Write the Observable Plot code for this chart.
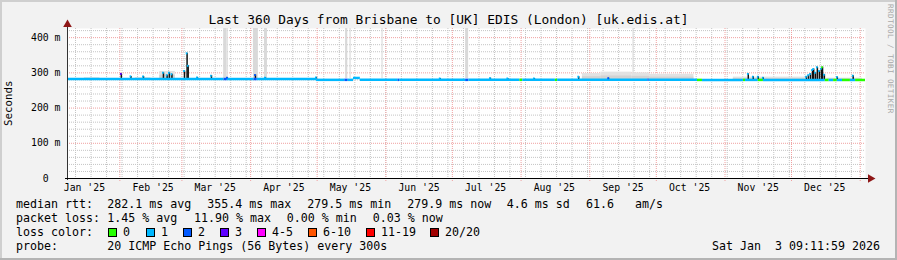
<!DOCTYPE html>
<html><head><meta charset="utf-8">
<script src="https://cdn.jsdelivr.net/npm/d3@7"></script>
<script src="https://cdn.jsdelivr.net/npm/@observablehq/plot@0.6"></script>
<style>
html,body{margin:0;padding:0;background:#fff;}
#chart{position:relative;width:897px;height:260px;background:#f2f2f2;overflow:hidden;font-family:"DejaVu Sans Mono",monospace;color:#000;}
#chart .tx{position:absolute;white-space:pre;line-height:1.164;}
#chart svg{position:absolute;left:0;top:0;}
</style></head><body><div id="chart"></div>
<script>
// ---------------- data ----------------
const titleText = "Last 360 Days from Brisbane to [UK] EDIS (London) [uk.edis.at]";
const dataStart = "2025-01-08T09:11:59Z";
const dataEnd = "2026-01-03T09:11:59Z";
const yMax = 426;
const yTicks = [0, 100, 200, 300, 400];

// median rtt runs: [start, median (ms), loss class]
const medianRuns = [
  ["2025-01-08T09:11Z", 282.5, 1],
  ["2025-03-20T00:00Z", 282.5, 2],
  ["2025-03-21T12:00Z", 282.5, 1],
  ["2025-04-02T12:00Z", 282.5, 2],
  ["2025-04-04T00:00Z", 282.5, 1],
  ["2025-04-30T18:00Z", 280.2, 1],
  ["2025-05-13T12:00Z", 280.2, 2],
  ["2025-05-15T00:00Z", 280.2, 1],
  ["2025-05-17T10:00Z", 285.5, 1],
  ["2025-05-20T12:00Z", 280.2, 1],
  ["2025-06-06T12:00Z", 280.2, 2],
  ["2025-06-07T06:00Z", 280.2, 1],
  ["2025-07-07T00:00Z", 280.2, 2],
  ["2025-07-08T12:00Z", 280.2, 1],
  ["2025-07-31T12:00Z", 280.2, 0],
  ["2025-08-01T18:00Z", 280.2, 1],
  ["2025-08-16T12:00Z", 280.2, 0],
  ["2025-08-17T12:00Z", 280.2, 1],
  ["2025-09-27T06:00Z", 280.2, 2],
  ["2025-09-27T20:00Z", 280.2, 1],
  ["2025-10-19T14:00Z", 280.0, 0],
  ["2025-10-21T20:00Z", 280.0, 1],
  ["2025-11-09T08:00Z", 280.0, 0],
  ["2025-11-10T06:00Z", 280.0, 1],
  ["2025-11-16T00:00Z", 280.0, 0],
  ["2025-11-18T08:00Z", 280.0, 1],
  ["2025-12-16T06:00Z", 279.8, 0],
  ["2025-12-18T00:00Z", 279.8, 1],
  ["2025-12-20T00:00Z", 279.8, 0],
  ["2025-12-21T16:00Z", 279.8, 1],
  ["2025-12-24T00:00Z", 279.8, 0],
  ["2025-12-27T14:00Z", 279.8, 1],
  ["2025-12-29T22:00Z", 279.8, 0]
];

// short median excursions: [time, median (ms), loss class]
const spikes = [
  ["2025-02-01T16:00Z", 297, 3],
  ["2025-02-06T00:00Z", 290, 1],
  ["2025-02-11T16:00Z", 290, 1],
  ["2025-02-20T16:00Z", 300, 1],
  ["2025-02-22T08:00Z", 293, 1],
  ["2025-02-23T08:00Z", 300, 1],
  ["2025-02-24T12:00Z", 296, 1],
  ["2025-03-02T04:00Z", 305, 1],
  ["2025-03-03T08:00Z", 355.4, 1],
  ["2025-03-03T20:00Z", 320, 1],
  ["2025-03-08T00:00Z", 287, 1],
  ["2025-03-14T08:00Z", 292, 1],
  ["2025-03-21T12:00Z", 286, 2],
  ["2025-04-03T04:00Z", 294, 2],
  ["2025-04-07T16:00Z", 286, 1],
  ["2025-04-30T16:00Z", 287, 1],
  ["2025-06-25T12:00Z", 284, 1],
  ["2025-07-18T04:00Z", 285, 1],
  ["2025-07-26T00:00Z", 284, 1],
  ["2025-08-07T00:00Z", 284, 1],
  ["2025-08-27T00:00Z", 289, 1],
  ["2025-09-09T12:00Z", 285, 2],
  ["2025-11-11T12:00Z", 297, 1],
  ["2025-11-13T18:00Z", 289, 1],
  ["2025-11-16T00:00Z", 289, 1],
  ["2025-11-18T06:00Z", 286, 1],
  ["2025-12-07T18:00Z", 289, 1],
  ["2025-12-08T16:00Z", 293, 1],
  ["2025-12-09T14:00Z", 297, 1],
  ["2025-12-10T12:00Z", 308, 1],
  ["2025-12-11T00:00Z", 311, 1],
  ["2025-12-11T20:00Z", 300, 1],
  ["2025-12-12T16:00Z", 316, 1],
  ["2025-12-13T14:00Z", 305, 1],
  ["2025-12-14T12:00Z", 312, 1],
  ["2025-12-15T00:00Z", 316, 0],
  ["2025-12-15T20:00Z", 295, 1],
  ["2025-12-21T16:00Z", 288, 1],
  ["2025-12-28T20:00Z", 292, 1]
];

// smoke (spread of the 20 pings): [start, end, upper (ms)]
const smoke = [
  ["2025-01-16T00:00Z", "2025-01-23T00:00Z", 286],
  ["2025-02-08T00:00Z", "2025-02-15T00:00Z", 286],
  ["2025-02-19T00:00Z", "2025-02-26T00:00Z", 304],
  ["2025-08-28T16:00Z", "2025-09-06T00:00Z", 298],
  ["2025-09-06T00:00Z", "2025-09-20T00:00Z", 302],
  ["2025-09-20T00:00Z", "2025-09-28T00:00Z", 300],
  ["2025-09-28T00:00Z", "2025-10-18T00:00Z", 296],
  ["2025-11-04T18:00Z", "2025-12-07T12:00Z", 288],
  ["2025-12-17T00:00Z", "2026-01-02T00:00Z", 285]
];

// intervals whose ping spread runs off the top of the graph: [start, end]
const offScale = [
  ["2025-03-19T20:00Z", "2025-03-21T10:00Z"],
  ["2025-03-21T16:00Z", "2025-03-22T00:00Z"],
  ["2025-04-02T06:00Z", "2025-04-04T12:00Z"],
  ["2025-04-07T06:00Z", "2025-04-08T14:00Z"],
  ["2025-05-13T20:00Z", "2025-05-14T20:00Z"],
  ["2025-05-15T20:00Z", "2025-05-16T08:00Z"],
  ["2025-05-30T06:00Z", "2025-05-30T18:00Z"],
  ["2025-07-07T00:00Z", "2025-07-08T08:00Z"],
  ["2025-09-20T12:00Z", "2025-09-21T00:00Z"]
];

const lossLabels = ["0", "1", "2", "3", "4-5", "6-10", "11-19", "20/20"];
const lossColors = ["#26ff00", "#00b8ff", "#0059ff", "#5e00ff", "#ff00ff", "#ff5500", "#ff0000", "#a10000"];

const rttStats = ["282.1 ms avg", "355.4 ms max", "279.5 ms min", "279.9 ms now", "4.6 ms sd", "61.6   am/s"];
const lossStats = ["1.45 % avg", "11.90 % max", "0.00 % min", "0.03 % now"];
const probeText = "20 ICMP Echo Pings (56 Bytes) every 300s";
const stampText = "Sat Jan  3 09:11:59 2026";
const watermark = "RRDTOOL / TOBI OETIKER";

// ---------------- build ----------------
const chart = document.getElementById("chart");
const t0 = new Date(dataStart), t1 = new Date(dataEnd);

const runs = medianRuns.map((r, i) => ({
  x1: new Date(r[0]),
  x2: i + 1 < medianRuns.length ? new Date(medianRuns[i + 1][0]) : t1,
  v: r[1], loss: r[2]
}));
function baseAt(t) {
  let v = runs[0].v;
  for (const r of runs) if (r.x1 <= t) v = r.v;
  return v;
}
const spk = spikes.map(s => {
  const t = new Date(s[0]);
  return {t, a: d3.utcHour.offset(t, -9), b: d3.utcHour.offset(t, 9), v: s[1], loss: s[2], base: baseAt(t)};
});
const smk = smoke.map(s => {
  const a = new Date(s[0]);
  return {a, b: new Date(s[1]), top: s[2], base: baseAt(a)};
});
const off = offScale.map(s => ({a: new Date(s[0]), b: new Date(s[1])}));

const monthLines = d3.utcMonth.range(d3.utcMonth.ceil(t0), t1);
const weekLines = d3.utcSunday.range(t0, t1);
const monthLabels = d3.utcMonth.range(d3.utcMonth.floor(t0), t1)
  .map(m => d3.utcDay.offset(m, 15)).filter(d => d >= t0 && d <= t1);
const minorY = d3.range(20, yMax, 20).filter(v => v % 100 !== 0);
const majorY = yTicks.filter(v => v > 0);

const minorGrid = "#c4c4c4", majorGrid = "#f0a0a0";

const plot = Plot.plot({
  width: 897, height: 260,
  marginLeft: 67, marginRight: 32, marginTop: 28, marginBottom: 82,
  x: {type: "utc", domain: [t0, t1]},
  y: {domain: [0, yMax]},
  style: {background: "transparent", fontFamily: "DejaVu Sans Mono", fontSize: "9.8px", color: "#000", overflow: "visible"},
  marks: [
    Plot.frame({fill: "white", stroke: "none"}),
    Plot.ruleY(minorY, {stroke: minorGrid, strokeDasharray: "1,1"}),
    Plot.ruleX(weekLines, {stroke: minorGrid, strokeDasharray: "1,1"}),
    Plot.ruleY(majorY, {stroke: majorGrid, strokeDasharray: "1,1"}),
    Plot.ruleX(monthLines, {stroke: majorGrid, strokeDasharray: "1,1", insetBottom: -3}),
    Plot.rect(off, {x1: "a", x2: "b", y1: 284, y2: yMax, fill: "#d9d9d9"}),
    Plot.rect(smk, {x1: "a", x2: "b", y1: "base", y2: "top", fill: "#e2e2e2"}),
    Plot.rect(smk, {x1: "a", x2: "b", y1: "base", y2: d => d.base + (d.top - d.base) * 0.5, fill: "#d2d2d2"}),
    Plot.ruleX(spk, {x: "t", y1: "base", y2: "v", stroke: "#111", strokeWidth: 1.5}),
    Plot.ruleY(runs, {y: "v", x1: "x1", x2: "x2", stroke: d => lossColors[d.loss], strokeWidth: 2.5}),
    Plot.ruleY(spk, {y: "v", x1: "a", x2: "b", stroke: d => lossColors[d.loss], strokeWidth: 2}),
    Plot.ruleX([t0], {stroke: "#333", insetTop: -5, insetBottom: -2}),
    Plot.ruleY([0], {stroke: "#000", insetLeft: -2, insetRight: -4}),
    Plot.dot([t0], {x: d => d, frameAnchor: "top", symbol: "triangle", r: 3.2, fill: "#8e1616", stroke: "none", dy: -4}),
    Plot.dot([0], {y: d => d, frameAnchor: "right", symbol: "triangle", rotate: 90, r: 3.2, fill: "#8e1616", stroke: "none", dx: 5}),
    Plot.axisY(yTicks, {tickSize: 0, tickPadding: 7, label: null, fontSize: 9.8,
      tickFormat: d => d === 0 ? "0\u00a0\u00a0" : d + " m"}),
    Plot.axisX(monthLabels, {tickSize: 0, tickPadding: 5.5, label: null, fontSize: 9.8,
      tickFormat: d3.utcFormat("%b '%y")})
  ]
});
chart.appendChild(plot);

// frame shading
const shade = (l, t, w, h, c) => {
  const d = document.createElement("div");
  d.style.cssText = `position:absolute;left:${l}px;top:${t}px;width:${w}px;height:${h}px;background:${c};`;
  chart.appendChild(d);
};
shade(0, 0, 897, 2, "#cfcfcf");
shade(0, 0, 2, 260, "#cfcfcf");
shade(0, 258, 897, 2, "#b4b4b4");
shade(895, 0, 2, 260, "#b4b4b4");

function txt(s, x, baseline, size, extra = "") {
  const d = document.createElement("div");
  d.className = "tx";
  d.textContent = s;
  d.style.cssText = `left:${x}px;top:${baseline - 0.928 * size}px;font-size:${size}px;${extra}`;
  chart.appendChild(d);
  return d;
}
// title
txt(titleText, 0, 24, 12.87, "width:897px;text-align:center;");
// y unit
const yl = txt("Seconds", 0, 0, 10.8, "");
yl.style.top = "0px";
yl.style.transformOrigin = "0 0";
yl.style.transform = "translate(3px, 126px) rotate(-90deg)";
// watermark
const wm = txt(watermark, 0, 0, 7.6, "color:#a8a8a8;letter-spacing:0.42px;");
wm.style.top = "0px";
wm.style.transformOrigin = "0 0";
wm.style.transform = "translate(894px, 4px) rotate(90deg)";

// legend
const L = 11.63;
const rows = [208.3, 222.5, 236.6, 250.8];
txt("median rtt:", 16, rows[0], L);
[107.3, 207.3, 307.3, 407.3, 506.7, 586].forEach((x, i) => txt(rttStats[i], x, rows[0], L));
txt("packet loss:", 16, rows[1], L);
[107.3, 194, 286.7, 372.7].forEach((x, i) => txt(lossStats[i], x, rows[1], L));
txt("loss color:", 16, rows[2], L);
const boxX = [108, 146, 183, 220, 257, 308, 366, 430];
boxX.forEach((x, i) => {
  const b = document.createElement("div");
  b.style.cssText = `position:absolute;left:${x}px;top:228px;width:7px;height:7px;border:1px solid #000;background:${lossColors[i]};`;
  chart.appendChild(b);
  txt(lossLabels[i], x + 15, rows[2], L);
});
txt("probe:", 16, rows[3], L);
txt(probeText, 107.3, rows[3], L);
const st = txt(stampText, 0, rows[3], L);
st.style.left = "auto";
st.style.right = "17px";
</script></body></html>
